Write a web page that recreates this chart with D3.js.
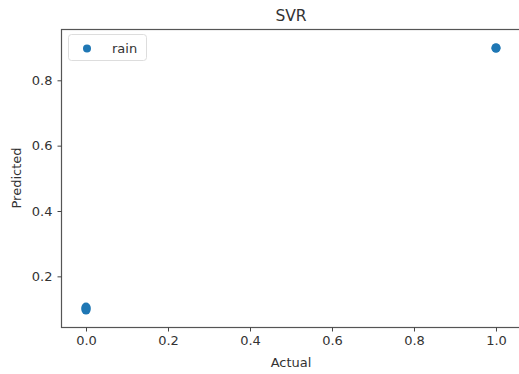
<!DOCTYPE html>
<html>
<head>
<meta charset="utf-8">
<script src="https://cdn.jsdelivr.net/npm/d3@7"></script>
<style>
  body { margin: 0; background: #fff; }
  text { font-family: "DejaVu Sans", sans-serif; fill: #333; }
</style>
</head>
<body>
<svg class="chart"></svg>
<script>
// SVR predictions vs actual values
const actual    = [0, 0, 0, 0, 1, 1]
const predicted = [0.097, 0.1, 0.103, 0.106, 0.898, 0.9]
const xTicks = [0.0, 0.2, 0.4, 0.6, 0.8, 1.0]
const yTicks = [0.2, 0.4, 0.6, 0.8]

const data = actual.map((a, i) => ({ actual: a, predicted: predicted[i] }))

const W = 519, H = 374

const x = d3.scaleLinear()
  .domain([-0.061, 1.061])
  .range([61, 521])

const y = d3.scaleLinear()
  .domain([0.045, 0.957])
  .range([327, 29])

const svg = d3.select('.chart')
  .attr('width', W)
  .attr('height', H)

const xAxis = d3.axisBottom(x)
  .tickValues(xTicks)
  .tickFormat(d3.format('.1f'))
  .tickSize(4)
  .tickPadding(4)

const yAxis = d3.axisLeft(y)
  .tickValues(yTicks)
  .tickFormat(d3.format('.1f'))
  .tickSize(4)
  .tickPadding(5)

// frame
svg.append('rect')
  .attr('x', x.range()[0] + 0.5)
  .attr('y', y.range()[1] + 0.5)
  .attr('width', x.range()[1] - x.range()[0])
  .attr('height', y.range()[0] - y.range()[1])
  .attr('fill', 'none')
  .attr('stroke', '#555')
  .attr('stroke-width', 1.2)

const gx = svg.append('g')
  .attr('transform', `translate(0, ${y.range()[0] + 0.5})`)
  .call(xAxis)

const gy = svg.append('g')
  .attr('transform', `translate(${x.range()[0] + 0.5}, 0)`)
  .call(yAxis)

;[gx, gy].forEach(g => {
  g.select('.domain').remove()
  g.selectAll('line').attr('stroke', '#444')
  g.selectAll('text').attr('font-size', 13).attr('fill', '#444')
    .style('font-family', '"DejaVu Sans", sans-serif')
})

// points
svg.append('g')
  .selectAll('circle')
  .data(data)
  .enter()
  .append('circle')
  .attr('cx', d => x(d.actual))
  .attr('cy', d => y(d.predicted))
  .attr('r', 4.5)
  .attr('fill', '#1f77b4')

// title and axis labels
svg.append('text')
  .attr('x', (x.range()[0] + x.range()[1]) / 2)
  .attr('y', 21)
  .attr('text-anchor', 'middle')
  .attr('font-size', 15.5)
  .text('SVR')

svg.append('text')
  .attr('x', (x.range()[0] + x.range()[1]) / 2)
  .attr('y', 367)
  .attr('text-anchor', 'middle')
  .attr('font-size', 13)
  .text('Actual')

svg.append('text')
  .attr('transform', `translate(21, ${(y.range()[0] + y.range()[1]) / 2}) rotate(-90)`)
  .attr('text-anchor', 'middle')
  .attr('font-size', 13)
  .text('Predicted')

// legend
svg.append('rect')
  .attr('x', 68.5).attr('y', 34.5)
  .attr('width', 78).attr('height', 26)
  .attr('rx', 3)
  .attr('fill', '#fff')
  .attr('stroke', '#ddd')
svg.append('circle')
  .attr('cx', 87).attr('cy', 48.5)
  .attr('r', 4)
  .attr('fill', '#1f77b4')
svg.append('text')
  .attr('x', 112).attr('y', 52.5)
  .attr('font-size', 13)
  .text('rain')
</script>
</body>
</html>
